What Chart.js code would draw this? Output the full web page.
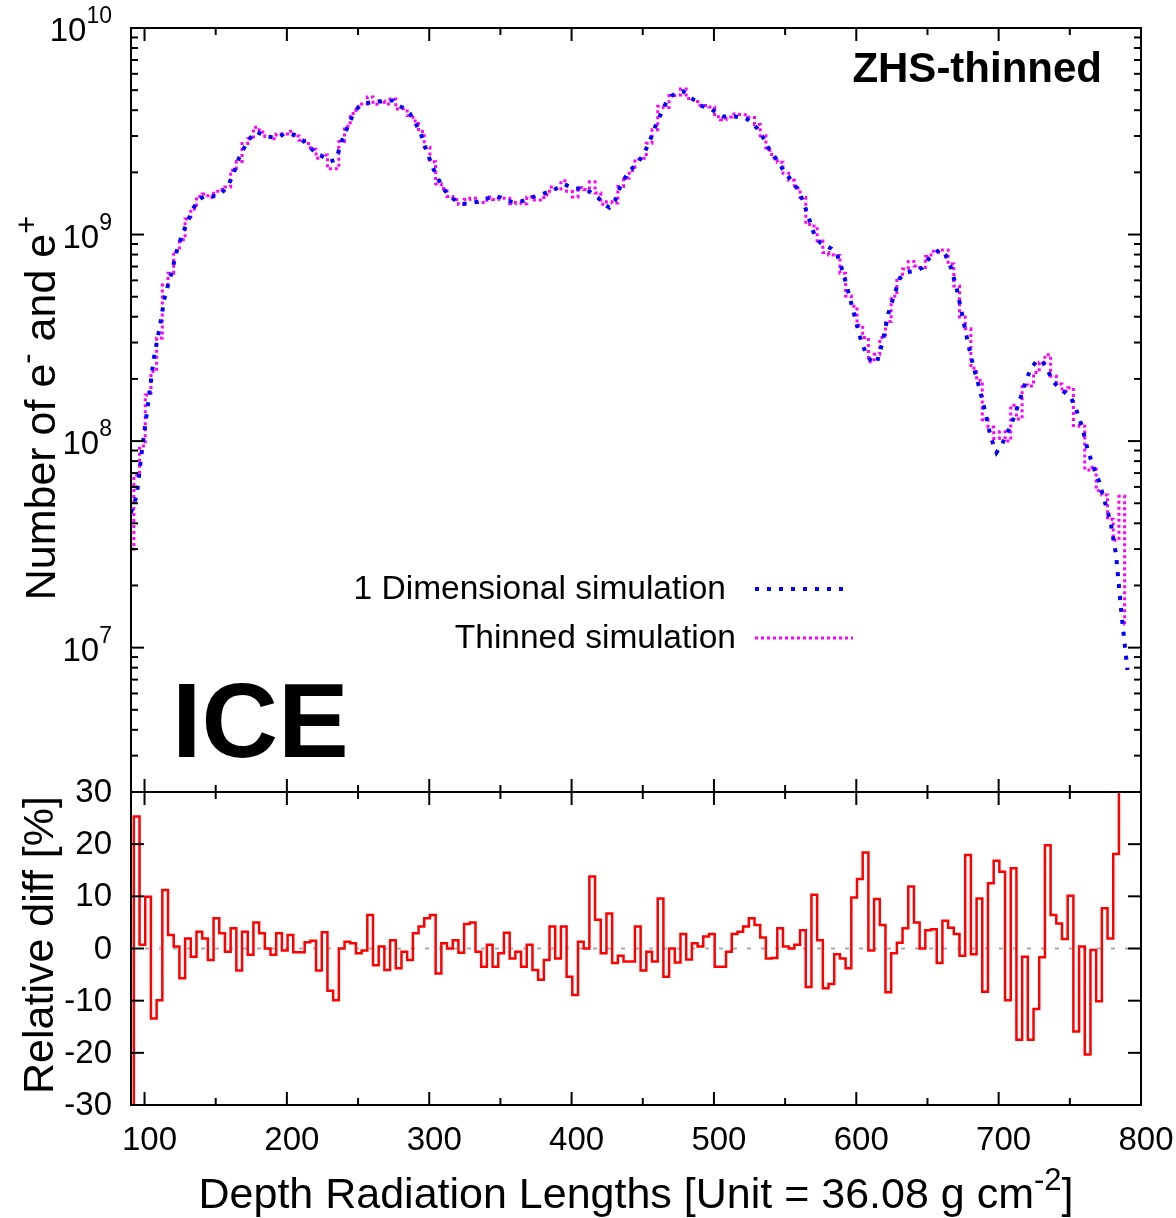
<!DOCTYPE html>
<html>
<head>
<meta charset="utf-8">
<script src="https://cdn.jsdelivr.net/npm/chart.js@4.4.0/dist/chart.umd.min.js"></script>
<style>
  html, body { margin: 0; padding: 0; background: #fff; }
  #wrap { position: relative; width: 1176px; height: 1218px; }
  #wrap canvas { position: absolute; left: 0; top: 0; }
</style>
</head>
<body>
<div id="wrap">
  <canvas id="showerChart" width="1176" height="1218"></canvas>
  <canvas id="diffChart" width="1176" height="1218"></canvas>
</div>
<script>
// bin centres, in radiation lengths
const depth = [
  90.5, 94.5, 98.5, 102.5, 106.5, 110.5, 114.5, 118.5, 122.5, 126.5,
  130.5, 134.5, 138.5, 142.5, 146.5, 150.5, 154.5, 158.5, 162.5, 166.5,
  170.5, 174.5, 178.5, 182.5, 186.5, 190.5, 194.5, 198.5, 202.5, 206.5,
  210.5, 214.5, 218.5, 222.5, 226.5, 230.5, 234.5, 238.5, 242.5, 246.5,
  250.5, 254.5, 258.5, 262.5, 266.5, 270.5, 274.5, 278.5, 282.5, 286.5,
  290.5, 294.5, 298.5, 302.5, 306.5, 310.5, 314.5, 318.5, 322.5, 326.5,
  330.5, 334.5, 338.5, 342.5, 346.5, 350.5, 354.5, 358.5, 362.5, 366.5,
  370.5, 374.5, 378.5, 382.5, 386.5, 390.5, 394.5, 398.5, 402.5, 406.5,
  410.5, 414.5, 418.5, 422.5, 426.5, 430.5, 434.5, 438.5, 442.5, 446.5,
  450.5, 454.5, 458.5, 462.5, 466.5, 470.5, 474.5, 478.5, 482.5, 486.5,
  490.5, 494.5, 498.5, 502.5, 506.5, 510.5, 514.5, 518.5, 522.5, 526.5,
  530.5, 534.5, 538.5, 542.5, 546.5, 550.5, 554.5, 558.5, 562.5, 566.5,
  570.5, 574.5, 578.5, 582.5, 586.5, 590.5, 594.5, 598.5, 602.5, 606.5,
  610.5, 614.5, 618.5, 622.5, 626.5, 630.5, 634.5, 638.5, 642.5, 646.5,
  650.5, 654.5, 658.5, 662.5, 666.5, 670.5, 674.5, 678.5, 682.5, 686.5,
  690.5, 694.5, 698.5, 702.5, 706.5, 710.5, 714.5, 718.5, 722.5, 726.5,
  730.5, 734.5, 738.5, 742.5, 746.5, 750.5, 754.5, 758.5, 762.5, 766.5,
  770.5, 774.5, 778.5, 782.5, 786.5, 790.5
];

// number of e- and e+, 1D simulation
const oneDim = [
  4.5e7, 5.45e7, 9.4e7, 1.52e8, 2.51e8, 3.51e8, 5.12e8, 6.33e8, 8.27e8, 1.0e9,
  1.17e9, 1.35e9, 1.48e9, 1.54e9, 1.54e9, 1.53e9, 1.6e9, 1.71e9, 1.97e9, 2.36e9,
  2.67e9, 2.95e9, 3.15e9, 3.05e9, 2.98e9, 2.95e9, 2.98e9, 3.08e9, 3.08e9, 3.02e9,
  2.88e9, 2.73e9, 2.55e9, 2.44e9, 2.36e9, 2.26e9, 2.31e9, 2.82e9, 3.3e9, 3.81e9,
  4.17e9, 4.31e9, 4.36e9, 4.41e9, 4.41e9, 4.46e9, 4.46e9, 4.21e9, 4.08e9, 3.85e9,
  3.45e9, 3.02e9, 2.5e9, 2.11e9, 1.85e9, 1.65e9, 1.53e9, 1.46e9, 1.41e9, 1.41e9,
  1.43e9, 1.44e9, 1.48e9, 1.51e9, 1.53e9, 1.51e9, 1.46e9, 1.44e9, 1.44e9, 1.46e9,
  1.51e9, 1.53e9, 1.56e9, 1.6e9, 1.63e9, 1.69e9, 1.75e9, 1.71e9, 1.67e9, 1.67e9,
  1.65e9, 1.58e9, 1.51e9, 1.41e9, 1.35e9, 1.46e9, 1.73e9, 1.93e9, 2.09e9, 2.23e9,
  2.44e9, 2.79e9, 3.3e9, 3.81e9, 4.36e9, 4.71e9, 4.87e9, 4.93e9, 4.66e9, 4.46e9,
  4.21e9, 4.12e9, 4.03e9, 3.85e9, 3.73e9, 3.73e9, 3.73e9, 3.69e9, 3.65e9, 3.49e9,
  3.26e9, 2.95e9, 2.61e9, 2.39e9, 2.16e9, 1.97e9, 1.83e9, 1.67e9, 1.46e9, 1.21e9,
  1.0e9, 9.15e8, 8.85e8, 8.55e8, 8.0e8, 6.62e8, 5.24e8, 4.1e8, 3.21e8, 2.68e8,
  2.43e8, 2.4e8, 3.03e8, 4.14e8, 5.07e8, 6.12e8, 6.55e8, 6.62e8, 6.7e8, 6.92e8,
  7.57e8, 8.0e8, 8.46e8, 8.0e8, 6.92e8, 5.48e8, 4.05e8, 2.97e8, 2.27e8, 1.8e8,
  1.39e8, 1.04e8, 8.8e7, 9.7e7, 1.11e8, 1.29e8, 1.55e8, 1.9e8, 2.24e8, 2.43e8,
  2.45e8, 2.19e8, 1.94e8, 1.8e8, 1.72e8, 1.64e8, 1.42e8, 1.18e8, 9.1e7, 7.5e7,
  6.4e7, 5.1e7, 4.1e7, 2.8e7, 1.41e7, 7.8e6
];

// number of e- and e+, thinned simulation
const thinned = [
  3.0e7, 6.83e7, 9.47e7, 1.67e8, 2.17e8, 3.16e8, 5.69e8, 6.49e8, 8.3e8, 9.43e8,
  1.19e9, 1.33e9, 1.53e9, 1.57e9, 1.51e9, 1.62e9, 1.65e9, 1.7e9, 2.05e9, 2.26e9,
  2.76e9, 2.91e9, 3.31e9, 3.14e9, 2.98e9, 2.91e9, 3.07e9, 3.07e9, 3.16e9, 3.0e9,
  2.86e9, 2.76e9, 2.59e9, 2.34e9, 2.43e9, 2.08e9, 2.08e9, 2.82e9, 3.34e9, 3.85e9,
  4.13e9, 4.29e9, 4.64e9, 4.27e9, 4.43e9, 4.28e9, 4.53e9, 4.05e9, 4.06e9, 3.77e9,
  3.55e9, 3.15e9, 2.65e9, 2.25e9, 1.76e9, 1.67e9, 1.53e9, 1.48e9, 1.4e9, 1.48e9,
  1.5e9, 1.43e9, 1.43e9, 1.52e9, 1.48e9, 1.5e9, 1.5e9, 1.41e9, 1.43e9, 1.41e9,
  1.52e9, 1.47e9, 1.47e9, 1.56e9, 1.7e9, 1.66e9, 1.82e9, 1.62e9, 1.52e9, 1.69e9,
  1.65e9, 1.8e9, 1.59e9, 1.4e9, 1.44e9, 1.42e9, 1.71e9, 1.88e9, 2.04e9, 2.32e9,
  2.34e9, 2.77e9, 3.22e9, 4.18e9, 4.12e9, 4.71e9, 4.74e9, 5.07e9, 4.56e9, 4.5e9,
  4.23e9, 4.21e9, 4.14e9, 3.72e9, 3.6e9, 3.71e9, 3.83e9, 3.81e9, 3.8e9, 3.69e9,
  3.41e9, 3.01e9, 2.56e9, 2.35e9, 2.24e9, 1.98e9, 1.83e9, 1.68e9, 1.51e9, 1.12e9,
  1.1e9, 9.3e8, 8.18e8, 7.97e8, 7.91e8, 6.49e8, 5.04e8, 4.5e8, 3.64e8, 3.17e8,
  2.42e8, 2.63e8, 3.17e8, 3.79e8, 5.02e8, 6.19e8, 6.81e8, 7.41e8, 7.04e8, 6.92e8,
  7.83e8, 8.3e8, 8.22e8, 8.42e8, 7.2e8, 5.63e8, 3.99e8, 3.5e8, 2.25e8, 1.97e8,
  1.27e8, 1.17e8, 1.03e8, 1.11e8, 1.0e8, 1.49e8, 1.28e8, 1.87e8, 1.85e8, 2.15e8,
  2.41e8, 2.62e8, 2.06e8, 1.89e8, 1.75e8, 1.81e8, 1.19e8, 1.18e8, 7.25e7, 7.48e7,
  5.75e7, 5.49e7, 4.18e7, 3.31e7, 5.4e7, 1.3e7
];

// relative difference thinned vs 1D, in percent
const relDiff = [
  -33, 25.3, 0.7, 9.9, -13.4, -9.9, 11.2, 2.6, 0.4, -5.7,
  1.9, -1.6, 3.2, 1.9, -2.2, 5.8, 2.9, -0.6, 3.9, -4.2,
  3.2, -1.2, 5.0, 2.9, 0.0, -1.2, 2.9, -0.4, 2.6, -0.7,
  -0.7, 1.2, 1.5, -4.2, 3.1, -8.1, -9.9, 0.0, 1.3, 1.0,
  -0.9, -0.4, 6.4, -3.2, 0.4, -4.1, 1.6, -3.8, -0.6, -2.2,
  2.9, 4.2, 5.8, 6.4, -4.8, 1.0, 0.0, 1.6, -0.8, 4.7,
  5.0, -0.6, -3.5, 0.7, -3.5, -0.9, 3.0, -1.9, -0.6, -3.5,
  0.7, -4.1, -6.0, -2.2, 4.2, -1.9, 4.2, -5.4, -8.9, 1.3,
  0.0, 13.8, 5.5, -0.9, 6.7, -2.8, -1.4, -2.5, -2.5, 4.2,
  -4.2, -0.6, -2.5, 9.6, -5.4, 0.0, -2.7, 2.8, -2.1, 1.0,
  0.4, 2.3, 2.8, -3.5, -3.5, -0.6, 2.8, 3.2, 4.2, 5.8,
  4.5, 2.1, -1.9, -1.8, 3.9, 0.4, 0.0, 0.7, 3.5, -7.4,
  10.3, 1.6, -7.6, -6.8, -1.1, -1.9, -3.8, 9.8, 13.3, 18.4,
  -0.4, 9.5, 4.5, -8.4, -0.9, 1.1, 3.9, 11.9, 5.0, 0.0,
  3.5, 3.7, -2.8, 5.3, 4.0, 2.8, -1.4, 17.9, -1.1, 9.6,
  -8.3, 12.5, 16.8, 14.7, -9.9, 15.4, -17.5, -1.6, -17.5, -11.6,
  -1.7, 19.8, 6.4, 4.8, 1.8, 10.1, -15.9, 0.4, -20.3, -0.3,
  -10.1, 7.7, 1.9, 18.1, 283, 67
];

const xMajorTicks = [100, 200, 300, 400, 500, 600, 700, 800];
const xMinorTicks = [150, 250, 350, 450, 550, 650, 750];
const logExponents = [7, 8, 9, 10];
const diffTicks = [-30, -20, -10, 0, 10, 20, 30];

const FONT = '"Liberation Sans", Arial, Helvetica, sans-serif';
const W = 1176, H = 1218;
const PLOT_LEFT = 131, PLOT_RIGHT = 1141;
const TOP_Y = 28, SPLIT_Y = 792, BOTTOM_Y = 1105;
const MAJOR = 13, MINOR = 7;

function seg(ctx, x1, y1, x2, y2) {
  ctx.beginPath();
  ctx.moveTo(x1, y1);
  ctx.lineTo(x2, y2);
  ctx.stroke();
}

// text with superscript pieces: parts = [[text, isSup], ...]
function drawRich(ctx, parts, x, y, size, supSize, raise, align) {
  const widths = parts.map(([t, sup]) => {
    ctx.font = `${sup ? supSize : size}px ${FONT}`;
    return ctx.measureText(t).width;
  });
  const total = widths.reduce((s, w) => s + w, 0);
  let cx = align === 'center' ? x - total / 2 : align === 'right' ? x - total : x;
  ctx.textAlign = 'left';
  ctx.textBaseline = 'alphabetic';
  parts.forEach(([t, sup], i) => {
    ctx.font = `${sup ? supSize : size}px ${FONT}`;
    ctx.fillText(t, cx, sup ? y - raise : y);
    cx += widths[i];
  });
}

function drawXTicks(ctx, x, area) {
  ctx.strokeStyle = '#000';
  ctx.lineWidth = 2;
  xMajorTicks.forEach(v => {
    const px = x.getPixelForValue(v);
    seg(ctx, px, area.top, px, area.top + MAJOR);
    seg(ctx, px, area.bottom, px, area.bottom - MAJOR);
  });
  xMinorTicks.forEach(v => {
    const px = x.getPixelForValue(v);
    seg(ctx, px, area.top, px, area.top + MINOR);
    seg(ctx, px, area.bottom, px, area.bottom - MINOR);
  });
}

function drawFrame(ctx, area) {
  ctx.strokeStyle = '#000';
  ctx.lineWidth = 2;
  ctx.strokeRect(area.left, area.top, area.right - area.left, area.bottom - area.top);
}

const showerDecor = {
  id: 'showerDecor',
  afterDraw(chart) {
    const { ctx, chartArea: a, scales: { x, y } } = chart;
    ctx.save();
    drawXTicks(ctx, x, a);

    // log ticks, 1..9 per decade
    for (let e = 6; e <= 10; e++) {
      for (let m = 1; m <= 9; m++) {
        const v = m * Math.pow(10, e);
        if (v < y.min * 0.999 || v > y.max * 1.001) continue;
        const py = y.getPixelForValue(v);
        const len = m === 1 ? MAJOR : MINOR;
        seg(ctx, a.left, py, a.left + len, py);
        seg(ctx, a.right, py, a.right - len, py);
      }
    }
    drawFrame(ctx, a);

    ctx.fillStyle = '#000';
    logExponents.forEach(e => {
      const py = y.getPixelForValue(Math.pow(10, e));
      drawRich(ctx, [['10', false], [String(e), true]], 112, py + 13, 33, 23, 18, 'right');
    });

    // legend
    ctx.font = `33.5px ${FONT}`;
    ctx.textAlign = 'right';
    ctx.textBaseline = 'middle';
    ctx.fillText('1 Dimensional simulation', 726, 590);
    ctx.fillText('Thinned simulation', 736, 639);
    const ds0 = chart.data.datasets[0], ds1 = chart.data.datasets[1];
    ctx.lineCap = 'butt';
    ctx.strokeStyle = ds0.borderColor;
    ctx.lineWidth = ds0.borderWidth;
    ctx.setLineDash(ds0.borderDash);
    seg(ctx, 755, 589, 849, 589);
    ctx.strokeStyle = ds1.borderColor;
    ctx.lineWidth = ds1.borderWidth;
    ctx.setLineDash(ds1.borderDash);
    seg(ctx, 755, 638, 853, 638);
    ctx.setLineDash([]);

    // annotations
    ctx.fillStyle = '#000';
    ctx.textBaseline = 'alphabetic';
    ctx.font = `bold 42px ${FONT}`;
    ctx.textAlign = 'right';
    ctx.fillText('ZHS-thinned', 1102, 82);
    ctx.font = `bold 106px ${FONT}`;
    ctx.textAlign = 'left';
    ctx.fillText('ICE', 172, 757);

    // y title
    ctx.save();
    ctx.translate(55, 408);
    ctx.rotate(-Math.PI / 2);
    drawRich(ctx, [['Number of e', false], ['-', true], [' and e', false], ['+', true]], 0, 0, 43, 31, 18, 'center');
    ctx.restore();
    ctx.restore();
  }
};

const diffDecor = {
  id: 'diffDecor',
  beforeDatasetsDraw(chart) {
    const { ctx, chartArea: a, scales: { y } } = chart;
    const py = y.getPixelForValue(0);
    ctx.save();
    ctx.strokeStyle = '#a8a8a8';
    ctx.lineWidth = 2;
    ctx.setLineDash([4, 10]);
    seg(ctx, a.left, py, a.right, py);
    ctx.restore();
  },
  afterDraw(chart) {
    const { ctx, chartArea: a, scales: { x, y } } = chart;
    ctx.save();
    drawXTicks(ctx, x, a);
    diffTicks.forEach(v => {
      const py = y.getPixelForValue(v);
      seg(ctx, a.left, py, a.left + MAJOR, py);
      seg(ctx, a.right, py, a.right - MAJOR, py);
    });
    drawFrame(ctx, a);

    ctx.fillStyle = '#000';
    ctx.font = `33px ${FONT}`;
    ctx.textAlign = 'right';
    ctx.textBaseline = 'middle';
    diffTicks.forEach(v => ctx.fillText(String(v), 112, y.getPixelForValue(v) + 1));

    ctx.textAlign = 'center';
    ctx.textBaseline = 'alphabetic';
    xMajorTicks.forEach(v => ctx.fillText(String(v), x.getPixelForValue(v) + 5, 1150));

    drawRich(ctx, [['Depth Radiation Lengths [Unit = 36.08 g cm', false], ['-2', true], [']', false]],
      636, 1208, 43, 31, 18, 'center');

    ctx.save();
    ctx.translate(53, 945);
    ctx.rotate(-Math.PI / 2);
    drawRich(ctx, [['Relative diff [%]', false]], 0, 0, 43, 31, 0, 'center');
    ctx.restore();
    ctx.restore();
  }
};

const xScale = { type: 'linear', min: 90.5, max: 800, display: false };
const baseOptions = {
  responsive: false,
  animation: false,
  devicePixelRatio: 1,
  events: [],
  plugins: { legend: { display: false }, tooltip: { enabled: false } },
};

new Chart(document.getElementById('showerChart'), {
  type: 'line',
  data: {
    datasets: [
      {
        label: '1 Dimensional simulation',
        data: depth.map((d, i) => ({ x: d, y: oneDim[i] })),
        borderColor: '#0000ff',
        borderWidth: 4,
        borderDash: [4, 8],
        pointRadius: 0,
        fill: false,
        order: 0,
      },
      {
        label: 'Thinned simulation',
        data: depth.map((d, i) => ({ x: d, y: thinned[i] })),
        borderColor: '#ff00ff',
        borderWidth: 3,
        borderDash: [3, 3],
        stepped: 'middle',
        pointRadius: 0,
        fill: false,
        order: 1,
      },
    ],
  },
  options: {
    ...baseOptions,
    layout: { padding: { left: PLOT_LEFT, right: W - PLOT_RIGHT, top: TOP_Y, bottom: H - SPLIT_Y } },
    scales: {
      x: xScale,
      y: { type: 'logarithmic', min: 2e6, max: 1e10, display: false },
    },
  },
  plugins: [showerDecor],
});

new Chart(document.getElementById('diffChart'), {
  type: 'line',
  data: {
    datasets: [{
      label: 'Relative diff',
      data: depth.map((d, i) => ({ x: d, y: relDiff[i] })),
      borderColor: '#ff0000',
      borderWidth: 2.5,
      stepped: 'middle',
      pointRadius: 0,
      fill: false,
    }],
  },
  options: {
    ...baseOptions,
    layout: { padding: { left: PLOT_LEFT, right: W - PLOT_RIGHT, top: SPLIT_Y, bottom: H - BOTTOM_Y } },
    scales: {
      x: { ...xScale },
      y: { type: 'linear', min: -30, max: 30, display: false },
    },
  },
  plugins: [diffDecor],
});
</script>
</body>
</html>
